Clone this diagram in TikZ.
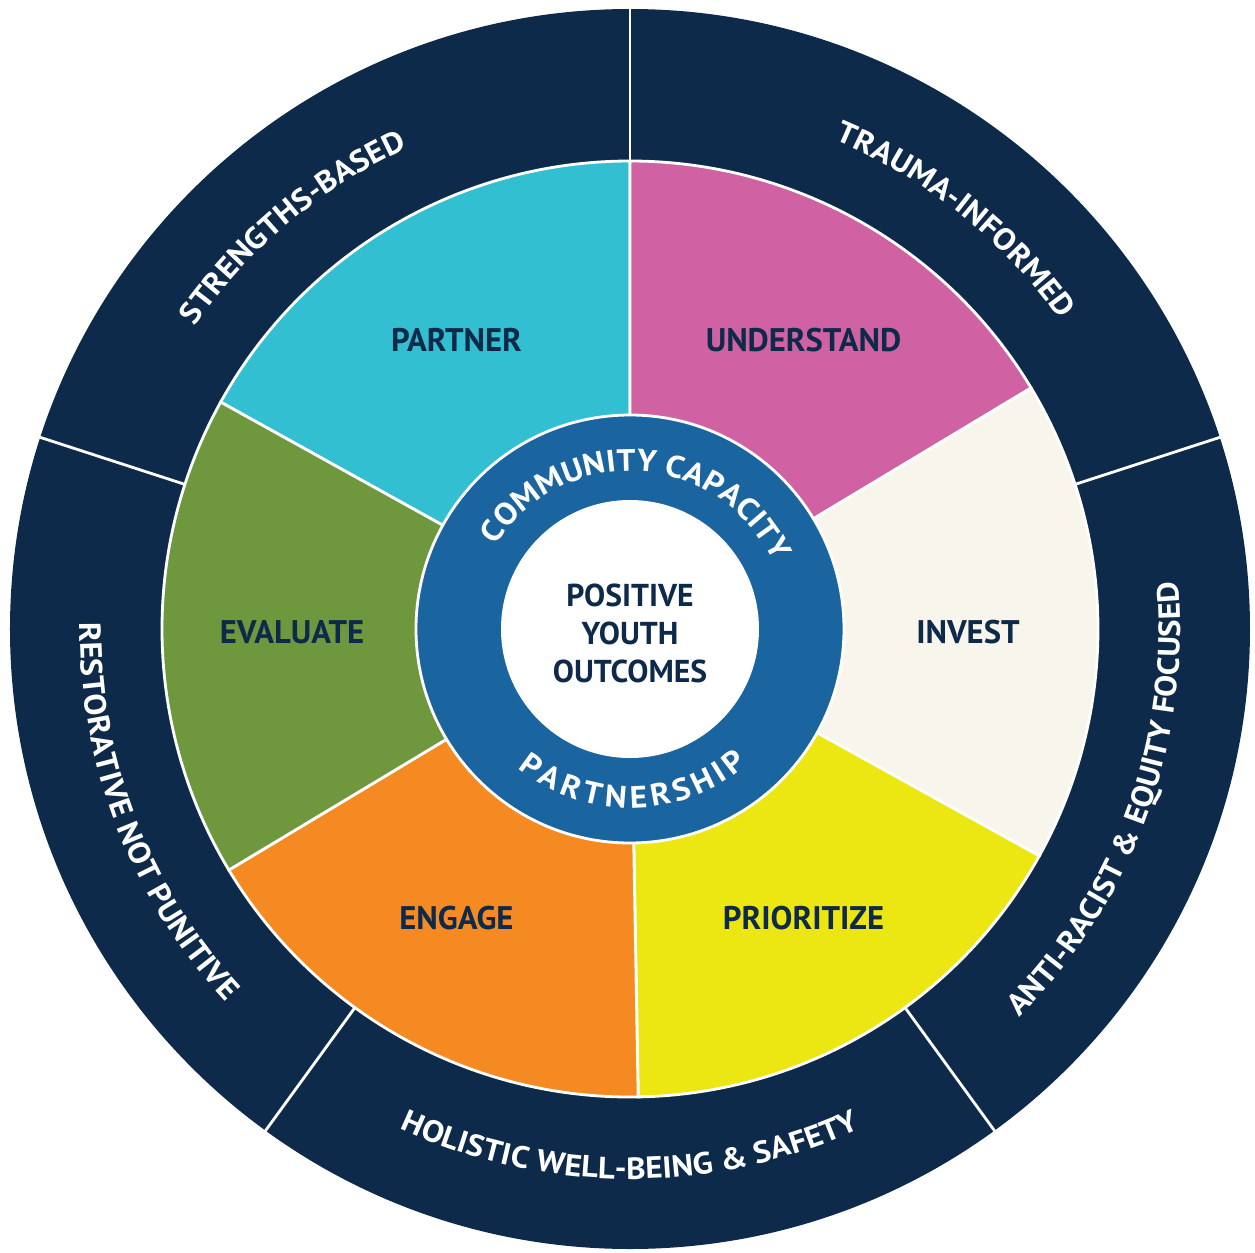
\documentclass[tikz,border=0pt]{standalone}
\usepackage{fontspec}
\usepackage{tikz}
\usepackage{xcolor}
\setmainfont{PT Sans}
\newfontfamily\bandfamily[FakeStretch=1.08]{PT Sans}
\usetikzlibrary{decorations.text}
\definecolor{navy}{RGB}{14, 42, 74}
\definecolor{ringblue}{RGB}{26, 100, 160}
\definecolor{segcyan}{RGB}{50, 191, 209}
\definecolor{segpink}{RGB}{208, 98, 163}
\definecolor{segcream}{RGB}{248, 246, 236}
\definecolor{segyellow}{RGB}{236, 231, 19}
\definecolor{segorange}{RGB}{245, 138, 35}
\definecolor{seggreen}{RGB}{110, 151, 62}
\newcommand{\bandfont}{\bandfamily\bfseries\fontsize{8.7}{10}\selectfont}
\newcommand{\hubfont}{\bandfamily\bfseries\fontsize{8.8}{10}\selectfont}
\tikzstyle{segment} = [
    draw=white,
    line width=0.8pt
]
\tikzstyle{divider} = [
    draw=white,
    line width=0.8pt
]
\tikzstyle{seglabel} = [
    text=navy,
    font=\bfseries\fontsize{9.3}{11}\selectfont
]
\tikzstyle{hub} = [
    text=navy,
    align=center,
    font=\bfseries\fontsize{9}{10.8}\selectfont
]
\tikzstyle{bandtext} = [
    decorate,
    decoration={text along path, text align=center, text color=white}
]
\tikzstyle{ringtext} = [
    decorate,
    decoration={text along path, text align=fit to path, text color=white}
]

\begin{document}
\begin{tikzpicture}
    \useasboundingbox (-6.30,-6.23) rectangle (6.25,6.29);

    \fill[navy] (0,0) circle (6.2);
    \draw[divider] (90:4.6) -- (90:6.25);
    \draw[divider] (18:4.6) -- (18:6.25);
    \draw[divider] (-54:4.6) -- (-54:6.25);
    \draw[divider] (-126:4.6) -- (-126:6.25);
    \draw[divider] (162:4.6) -- (162:6.25);

    \filldraw[segment, fill=segcyan] (0,0) -- (151:4.68) arc[start angle=151, end angle=90, radius=4.68] -- cycle;
    \filldraw[segment, fill=segpink] (0,0) -- (90:4.68) arc[start angle=90, end angle=31, radius=4.68] -- cycle;
    \filldraw[segment, fill=segcream] (0,0) -- (31:4.68) arc[start angle=31, end angle=-29, radius=4.68] -- cycle;
    \filldraw[segment, fill=segyellow] (0,0) -- (-29:4.68) arc[start angle=-29, end angle=-89, radius=4.68] -- cycle;
    \filldraw[segment, fill=segorange] (0,0) -- (-89:4.68) arc[start angle=-89, end angle=-149, radius=4.68] -- cycle;
    \filldraw[segment, fill=seggreen] (0,0) -- (211:4.68) arc[start angle=211, end angle=151, radius=4.68] -- cycle;

    \filldraw[segment, fill=ringblue] (0,0) circle (2.14);
    \fill[white] (0,0) circle (1.29);

    \node[seglabel] (partner) at (121:3.37) {PARTNER};
    \node[seglabel] (understand) at (59:3.37) {UNDERSTAND};
    \node[seglabel] (invest) at (-0.5:3.38) {INVEST};
    \node[seglabel] (prioritize) at (-59:3.37) {PRIORITIZE};
    \node[seglabel] (engage) at (-121:3.37) {ENGAGE};
    \node[seglabel] (evaluate) at (180.5:3.38) {EVALUATE};
    \node[hub] (outcomes) at (0,-0.04) {POSITIVE\\YOUTH\\OUTCOMES};

    \path[ringtext, decoration={text={|\hubfont|COMMUNITY CAPACITY}}]
        (148:1.58) arc[start angle=148, end angle=25.5, radius=1.58];
    \path[ringtext, decoration={text={|\hubfont|PARTNERSHIP}}]
        (-129:1.79) arc[start angle=-129, end angle=-49, radius=1.79];

    \path[bandtext, decoration={text={|\bandfont|STRENGTHS-BASED}}]
        (155:5.30) arc[start angle=155, end angle=105, radius=5.30];
    \path[bandtext, decoration={text={|\bandfont|TRAUMA-INFORMED}}]
        (76.5:5.30) arc[start angle=76.5, end angle=26.5, radius=5.30];
    \path[bandtext, decoration={text={|\bandfont|ANTI-RACIST {\&} EQUITY FOCUSED}}]
        (-52:5.50) arc[start angle=-52, end angle=12, radius=5.50];
    \path[bandtext, decoration={text={|\bandfont|HOLISTIC WELL-BEING {\&} SAFETY}}]
        (-122:5.50) arc[start angle=-122, end angle=-58, radius=5.50];
    \path[bandtext, decoration={text={|\bandfont|RESTORATIVE NOT PUNITIVE}}]
        (171:5.50) arc[start angle=171, end angle=231, radius=5.50];
\end{tikzpicture}
\end{document}
